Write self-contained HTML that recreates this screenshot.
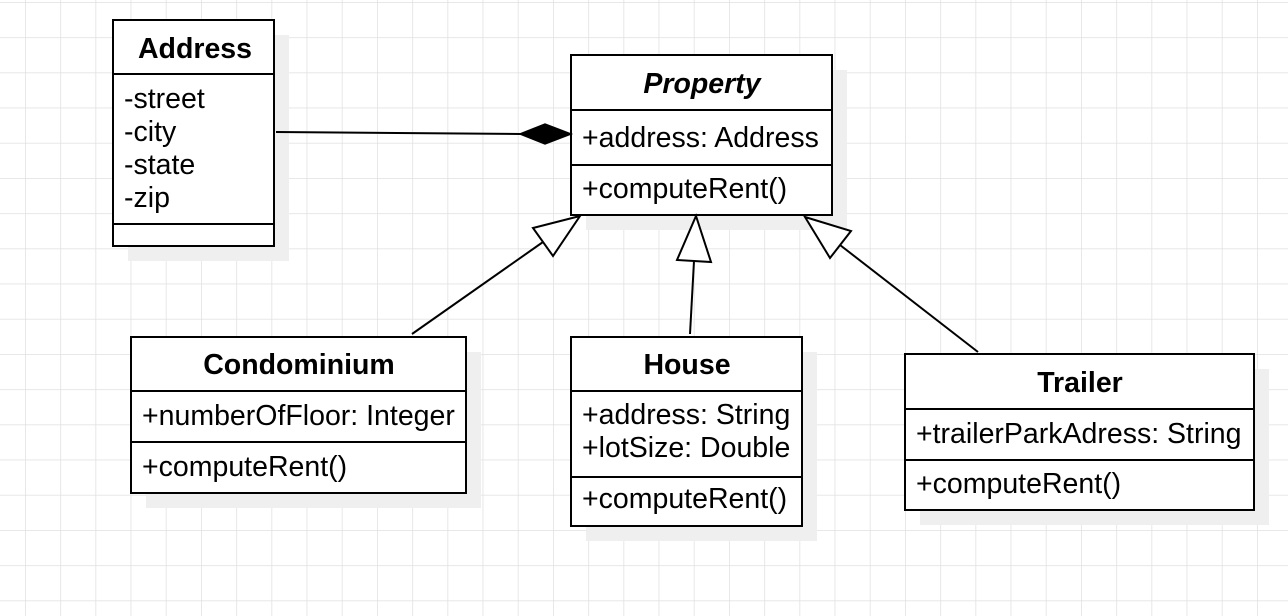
<!DOCTYPE html>
<html><head><meta charset="utf-8"><style>
html,body{margin:0;padding:0;background:#fff;}
svg{display:block;font-family:"Liberation Sans",sans-serif;}
</style></head><body>
<svg width="1288" height="616" xmlns="http://www.w3.org/2000/svg">
<defs>
<pattern id="g" x="25" y="2" width="35.2" height="35.2" patternUnits="userSpaceOnUse">
<path d="M0 0 V35.2 M0 0 H35.2" stroke="#e0e0e0" stroke-width="1.5" fill="none"/>
</pattern>
</defs>
<rect width="1288" height="616" fill="url(#g)"/>
<g fill="#efefef">
<rect x="128" y="35" width="161" height="226"/>
<rect x="586" y="70" width="261" height="160"/>
<rect x="146" y="352" width="335" height="156"/>
<rect x="586" y="352" width="231" height="189"/>
<rect x="920" y="369" width="349" height="156"/>
</g>
<g fill="#fff" stroke="#000" stroke-width="2">
<rect x="113" y="20" width="161" height="226"/>
<line x1="113" y1="74" x2="274" y2="74"/><line x1="113" y1="224" x2="274" y2="224"/>
<rect x="571" y="55" width="261" height="160"/>
<line x1="571" y1="110" x2="832" y2="110"/><line x1="571" y1="165" x2="832" y2="165"/>
<rect x="131" y="337" width="335" height="156"/>
<line x1="131" y1="391" x2="466" y2="391"/><line x1="131" y1="442" x2="466" y2="442"/>
<rect x="571" y="337" width="231" height="189"/>
<line x1="571" y1="391" x2="802" y2="391"/><line x1="571" y1="477" x2="802" y2="477"/>
<rect x="905" y="354" width="349" height="156"/>
<line x1="905" y1="409" x2="1254" y2="409"/><line x1="905" y1="460" x2="1254" y2="460"/>
</g>
<g stroke="#000" stroke-width="2" fill="none">
<line x1="276" y1="132" x2="521" y2="134"/>
<line x1="412" y1="334" x2="543" y2="242"/>
<line x1="690" y1="334" x2="694" y2="261"/>
<line x1="978" y1="352" x2="840" y2="245"/>
</g>
<polygon points="520,134 545,124 571,134 545,144" fill="#000" stroke="#000" stroke-width="1.5"/>
<g fill="#fff" stroke="#000" stroke-width="2">
<polygon points="580,216 533,228 553,256"/>
<polygon points="696,216 677,260 711,262"/>
<polygon points="805,217 851,231 830,258"/>
</g>
<g font-size="28.5" fill="#000">
<text x="195" y="58" text-anchor="middle" font-weight="bold">Address</text>
<text x="124" y="108">-street</text>
<text x="124" y="141">-city</text>
<text x="124" y="174">-state</text>
<text x="124" y="207">-zip</text>
<text x="702" y="93" text-anchor="middle" font-weight="bold" font-style="italic">Property</text>
<text x="582" y="147">+address: Address</text>
<text x="582" y="198">+computeRent()</text>
<text x="299" y="374" text-anchor="middle" font-weight="bold">Condominium</text>
<text x="142" y="425">+numberOfFloor: Integer</text>
<text x="142" y="476">+computeRent()</text>
<text x="687" y="374" text-anchor="middle" font-weight="bold">House</text>
<text x="582" y="424">+address: String</text>
<text x="582" y="457">+lotSize: Double</text>
<text x="582" y="508">+computeRent()</text>
<text x="1080" y="392" text-anchor="middle" font-weight="bold">Trailer</text>
<text x="916" y="443">+trailerParkAdress: String</text>
<text x="916" y="493">+computeRent()</text>
</g>
</svg>
</body></html>
